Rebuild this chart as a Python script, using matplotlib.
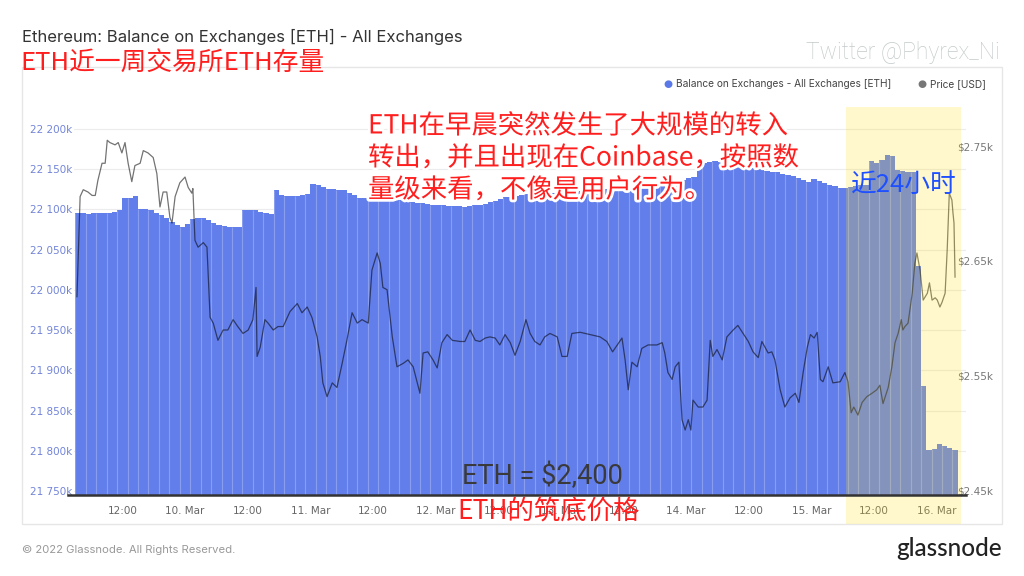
import numpy as np
import matplotlib.pyplot as plt
from matplotlib.patches import Rectangle
from matplotlib.lines import Line2D
import matplotlib.patheffects as pe

# balance on exchanges, hourly, thousands of ETH, starting 9 Mar 03:00
balance = [
    22095, 22095, 22094, 22095, 22095, 22096, 22096, 22097, 22099,
    22114, 22114, 22117, 22101, 22100, 22099, 22096, 22093, 22089,
    22084, 22081, 22078, 22082, 22088, 22089, 22089, 22087, 22083,
    22081, 22079, 22078, 22078, 22078, 22099, 22099, 22099, 22097,
    22095, 22094, 22124, 22118, 22117, 22117, 22117, 22118, 22119,
    22132, 22130, 22128, 22126, 22125, 22124, 22124, 22121, 22118,
    22114, 22114, 22115, 22115, 22116, 22114, 22114, 22113, 22112,
    22110, 22109, 22108, 22108, 22107, 22106, 22105, 22105, 22104,
    22104, 22104, 22103, 22104, 22105, 22106, 22107, 22109, 22111,
    22113, 22115, 22116, 22117, 22118, 22119, 22119, 22120, 22120,
    22121, 22121, 22122, 22122, 22123, 22122, 22123, 22124, 22124,
    22123, 22124, 22125, 22124, 22125, 22126, 22127, 22127, 22128,
    22129, 22128, 22130, 22131, 22131, 22132, 22133, 22135, 22137,
    22139, 22140, 22155, 22158, 22159, 22160, 22159, 22160, 22158,
    22157, 22155, 22154, 22152, 22151, 22150, 22148, 22147, 22146,
    22144, 22143, 22141, 22139, 22137, 22134, 22138, 22135, 22133,
    22131, 22129, 22127, 22127, 22128, 22129, 22130, 22131, 22160,
    22158, 22161, 22168, 22167, 22149, 22148, 22147, 22147, 22030,
    21880, 21801, 21802, 21809, 21806, 21803, 21801,
]

# price readings (hours since 9 Mar 03:00, USD)
price_hours = [
    0.3, 0.9, 1.5, 2.4, 3.2, 3.8, 4.3, 5.1, 5.7, 6.1, 6.6, 7.6, 8.2, 8.9, 9.5,
    10.1, 10.8, 11.4, 12.4, 13.0, 13.9, 14.9, 15.6, 16.2, 16.8, 17.5, 18.1,
    18.5, 19.1, 20.0, 21.0, 21.6, 22.3, 22.5, 22.9, 23.5, 24.5, 25.2, 25.8,
    26.4, 27.3, 28.3, 29.2, 30.2, 31.1, 32.1, 33.1, 34.0, 34.6, 34.8, 35.4,
    36.3, 36.9, 37.9, 38.8, 39.8, 41.1, 42.5, 43.4, 44.4, 45.3, 46.3, 46.9,
    47.4, 48.2, 49.2, 50.1, 51.1, 52.0, 53.0, 54.0, 54.9, 56.1, 56.8, 57.8,
    58.4, 58.9, 59.7, 60.7, 61.6, 62.8, 63.7, 64.7, 66.0, 66.6, 67.5, 68.5,
    69.3, 70.2, 71.2, 72.2, 73.7, 74.6, 75.6, 76.6, 77.5, 78.5, 79.4, 80.4,
    81.3, 82.3, 83.3, 84.2, 85.2, 86.3, 87.1, 88.0, 89.0, 89.9, 90.9, 92.3,
    93.2, 94.2, 95.1, 96.7, 98.6, 100.5, 101.8, 102.9, 104.7, 105.3, 105.9,
    106.6, 107.6, 108.5, 109.7, 111.4, 112.4, 112.9, 113.5, 114.3, 114.9,
    115.6, 116.2, 116.8, 117.4, 117.9, 118.3, 119.3, 120.2, 121.0, 121.6,
    122.1, 122.9, 123.9, 124.8, 126.0, 126.9, 127.9, 128.9, 129.8, 130.8,
    131.5, 132.1, 132.7, 133.4, 134.0, 135.0, 135.9, 136.9, 137.9, 138.6,
    139.4, 140.2, 140.8, 141.5, 142.1, 142.7, 143.2, 144.2, 145.1, 146.5,
    147.4, 148.0, 148.6, 149.1, 149.9, 150.7, 151.6, 152.6, 153.5, 154.1,
    154.7, 155.7, 156.4, 157.0, 157.6, 158.2, 158.5, 158.9, 159.5, 160.3,
    160.8, 161.2, 161.8, 162.4, 163.2, 163.6, 164.1, 164.7, 165.1, 165.6,
    166.0, 166.6, 167.0, 167.4, 167.9, 168.1, 168.3, 168.5,
]
price = [
    2619, 2706, 2712, 2710, 2707, 2707, 2720, 2735, 2735, 2755, 2753, 2751, 2753, 2744, 2753,
    2735, 2719, 2733, 2735, 2746, 2744, 2740, 2726, 2697, 2710, 2710, 2688,
    2683, 2706, 2718, 2723, 2714, 2709, 2713, 2668, 2662, 2666, 2662, 2601,
    2596, 2581, 2590, 2590, 2599, 2593, 2587, 2590, 2599, 2627, 2567, 2575,
    2599, 2596, 2590, 2593, 2593, 2606, 2613, 2605, 2610, 2601, 2584, 2567,
    2544, 2532, 2544, 2540, 2561, 2581, 2605, 2596, 2599, 2596, 2642, 2657,
    2648, 2627, 2625, 2584, 2558, 2561, 2564, 2558, 2535, 2570, 2571, 2564,
    2557, 2579, 2586, 2581, 2580, 2580, 2590, 2581, 2580, 2583, 2584, 2583,
    2577, 2586, 2579, 2568, 2580, 2599, 2587, 2580, 2577, 2584, 2587, 2584,
    2567, 2567, 2587, 2588, 2586, 2584, 2580, 2571, 2583, 2564, 2538,
    2562, 2558, 2574, 2577, 2577, 2579, 2570, 2553, 2547, 2558,
    2562, 2512, 2503, 2512, 2503, 2529, 2523, 2523, 2529, 2581,
    2567, 2573, 2564, 2584, 2590, 2594, 2587, 2580, 2571, 2566,
    2580, 2575, 2570, 2571, 2564, 2538, 2523, 2531, 2535, 2527,
    2553, 2575, 2586, 2583, 2588, 2547, 2545, 2558, 2544, 2545,
    2553, 2545, 2518, 2523, 2516, 2527, 2532, 2535, 2538, 2542,
    2526, 2540, 2558, 2579, 2587, 2599, 2590, 2593, 2596, 2622,
    2648, 2657, 2642, 2616, 2622, 2631, 2616, 2618, 2616, 2610,
    2614, 2622, 2660, 2709, 2703, 2692, 2683, 2636,
]

xtick_hours = [9, 21, 33, 45, 57, 69, 81, 93, 105, 117, 129, 141, 153, 165]
xtick_labels = ["12:00", "10. Mar", "12:00", "11. Mar", "12:00", "12. Mar", "12:00",
                "13. Mar", "12:00", "14. Mar", "12:00", "15. Mar", "12:00", "16. Mar"]
bal_ticks = list(range(21750, 22201, 50))
price_ticks = [2450, 2550, 2650, 2750]

W, H = 1024, 576
def fx(px):
    return px / W
def fy(py):
    return 1 - py / H

CJK = ['Noto Sans CJK SC', 'DejaVu Sans']
BLUE = '#627EEA'

fig = plt.figure(figsize=(10.24, 5.76), dpi=100)
ax = fig.add_axes([fx(74), fy(495), fx(966) - fx(74), fy(93) - fy(495)])

hours = np.arange(len(balance))
ax.bar(hours, balance, width=1.0, align='edge', color=BLUE, zorder=2)
bal = np.array(balance)
ax.vlines(hours[::2], 21700, bal[::2], color='white', alpha=0.25, lw=0.8, zorder=3)

ax.set_xlim(-0.27, 170.6)
ax.set_ylim(21745, 22244.8)
ax.set_yticks(bal_ticks)
ax.set_yticklabels([f"{v // 1000} {v % 1000:03d}k" for v in bal_ticks])
ax.grid(axis='y', color='#ececec', lw=0.8)
ax.set_axisbelow(True)
ax.set_xticks(xtick_hours)
ax.set_xticklabels(xtick_labels)
ax.tick_params(axis='x', length=0, pad=8, labelsize=7.5, labelcolor='#666666')
ax.tick_params(axis='y', length=0, pad=1, labelsize=7.5, labelcolor='#7284D8')
for s in ax.spines.values():
    s.set_visible(False)

ax2 = ax.twinx()
ax2.plot(price_hours, price, color='black', alpha=0.55, lw=0.9)
ax2.set_ylim(2446.5, 2796.1)
ax2.set_yticks(price_ticks)
ax2.set_yticklabels([f"${v / 1000:.2f}k" for v in price_ticks])
ax2.tick_params(axis='y', length=0, pad=-6.5, labelsize=7.5, labelcolor='#777777')
for s in ax2.spines.values():
    s.set_visible(False)

# x axis line and chart frame
fig.add_artist(Line2D([fx(68), fx(966)], [fy(495), fy(495)], color='#333333', lw=1.8))
fig.add_artist(Rectangle((fx(22), fy(524)), fx(1002) - fx(22), fy(67) - fy(524),
                         fill=False, edgecolor='#e6e6e6', lw=1))

# highlighted last 24h
fig.add_artist(Rectangle((fx(846), fy(524)), fx(961) - fx(846), fy(107) - fy(524),
                         facecolor='#FFE01A', alpha=0.22, edgecolor='none'))

# titles
fig.text(fx(22), fy(37), "Ethereum: Balance on Exchanges [ETH] - All Exchanges",
         fontsize=12, color='#333333', va='center', family='Inter')
fig.text(fx(20), fy(63), "ETH近一周交易所ETH存量", fontsize=18.5, color='#FF1E1E',
         va='center', family=CJK)
fig.text(fx(1000), fy(52), "Twitter @Phyrex_Ni", fontsize=16.5, color='#C3C9C9',
         ha='right', va='center', family='Roboto', fontweight='light')

# legend
fig.text(fx(668), fy(84), "●", fontsize=7.5, color='#5B78E8', ha='center', va='center')
fig.text(fx(676), fy(84), "Balance on Exchanges - All Exchanges [ETH]", fontsize=7.3,
         color='#444444', va='center', family='Inter')
fig.text(fx(922), fy(84), "●", fontsize=7.5, color='#777777', ha='center', va='center')
fig.text(fx(930), fy(84), "Price [USD]", fontsize=7.3, color='#444444', va='center',
         family='Inter')

# annotations
note = ["ETH在早晨突然发生了大规模的转入",
        "转出，并且出现在Coinbase，按照数",
        "量级来看，不像是用户行为。"]
for i, line in enumerate(note):
    fig.text(fx(368), fy(126 + 32 * i), line, fontsize=19, color='#FF1E1E', va='center',
             family=CJK, path_effects=[pe.withStroke(linewidth=4, foreground='white')])
fig.text(fx(851), fy(185), "近24小时", fontsize=18.5, color='#1E50FF', va='center',
         family=CJK)
fig.text(fx(462), fy(476), "ETH = $2,400", fontsize=19.5, color='#3a3a3a', va='center',
         family='Roboto')
fig.text(fx(457), fy(512), "ETH的筑底价格", fontsize=19, color='#FF1E1E', va='center',
         family=CJK)

# footer
fig.text(fx(22), fy(550), "© 2022 Glassnode. All Rights Reserved.", fontsize=8.1,
         color='#999999', va='center', family='Inter')
fig.text(fx(1002), fy(548), "glassnode", fontsize=17.5, color='#222222', ha='right',
         va='center', family='Lato', fontweight='medium')

fig.savefig('out.png', dpi=100)
